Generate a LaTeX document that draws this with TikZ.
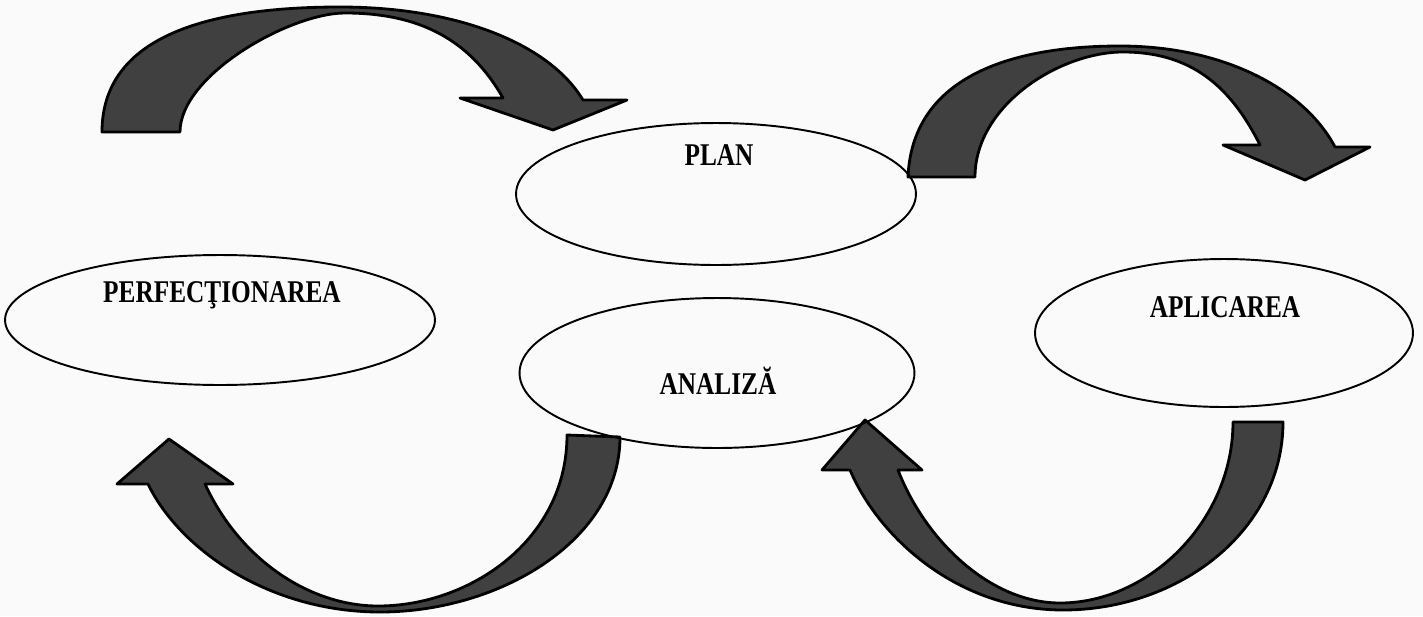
\documentclass[tikz,border=0pt]{standalone}
\usepackage{fontspec}
\newfontfamily\stagefont{Liberation Serif}[FakeStretch=0.8]
\usetikzlibrary{shapes.geometric}
\tikzstyle{stageblock} = [draw, line width=1.1pt, ellipse, inner sep=0pt]
\tikzstyle{stagelabel} = [font=\stagefont\bfseries\fontsize{18}{20}\selectfont, inner sep=0pt, anchor=base]
\tikzstyle{bentarrow} = [draw=black, fill=black!75, line width=1.6pt, line join=round]

\begin{document}
\begin{tikzpicture}[x=0.02cm, y=-0.02cm]
      \fill[gray!4] (0,0) rectangle (1423,616);
      \useasboundingbox (0,0) rectangle (1423,616);

      \draw[bentarrow] (102,132) .. controls (102,40) and (200,7) .. (340,7)
        .. controls (460,7) and (550,45) .. (583,100) -- (627,100) -- (553,130) -- (460,98) -- (503,98)
        .. controls (470,40) and (420,13) .. (345,13)
        .. controls (290,13) and (180,75) .. (180,132) -- cycle;
      \draw[bentarrow] (908,177) .. controls (912,80) and (1005,46) .. (1120,46)
        .. controls (1225,46) and (1305,90) .. (1335,147) -- (1370,147) -- (1305,180) -- (1223,145) -- (1260,145)
        .. controls (1230,85) and (1190,52) .. (1123,52)
        .. controls (1060,52) and (975,105) .. (975,177) -- cycle;
      \draw[bentarrow] (620,437) .. controls (620,540) and (500,612) .. (380,612)
        .. controls (270,612) and (180,550) .. (148,484) -- (117,484) -- (169,439) -- (233,484) -- (205,484)
        .. controls (240,560) and (310,606) .. (378,606)
        .. controls (470,606) and (567,540) .. (567,435) -- cycle;
      \draw[bentarrow] (1283,422) .. controls (1283,530) and (1180,610) .. (1063,610)
        .. controls (960,610) and (880,540) .. (850,470) -- (822,470) -- (865,420) -- (922,470) -- (898,470)
        .. controls (925,540) and (990,603) .. (1060,603)
        .. controls (1150,603) and (1233,520) .. (1233,422) -- cycle;

      \node[stageblock, minimum width=8cm, minimum height=2.84cm] (plan) at (716,194) {};
      \node[stageblock, minimum width=7.9cm, minimum height=3cm] (analiza) at (717,373) {};
      \node[stageblock, minimum width=8.6cm, minimum height=2.6cm] (perfect) at (220,320) {};
      \node[stageblock, minimum width=7.56cm, minimum height=2.96cm] (aplicare) at (1224,333) {};

      \node[stagelabel] (plantext) at (719,165) {PLAN};
      \node[stagelabel] (analizatext) at (718,394) {ANALIZĂ};
      \node[stagelabel] (perfecttext) at (222,302) {PERFECŢIONAREA};
      \node[stagelabel] (aplicaretext) at (1225,317) {APLICAREA};
\end{tikzpicture}
\end{document}
